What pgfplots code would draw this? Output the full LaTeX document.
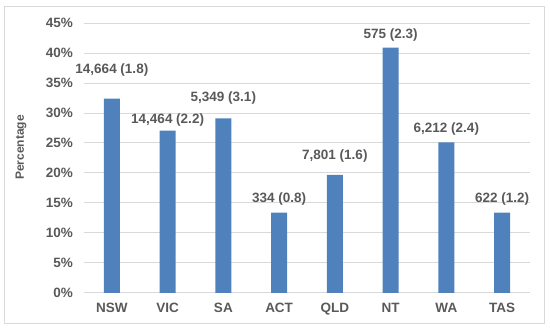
\documentclass[border=0pt]{standalone}
\usepackage{fontspec}
\setmainfont{Liberation Sans}
\usepackage{pgfplots}
\usepackage{pgfplotstable}
\pgfplotsset{compat=1.18}
\definecolor{txt}{HTML}{595959}
\definecolor{bar}{HTML}{4F81BD}
\definecolor{grd}{HTML}{D9D9D9}
\pgfplotstableread[col sep=semicolon, row sep=\\]{
x;y;ly;lab\\
0;32.4;37.17;{14,664 (1.8)}\\
1;27.05;28.83;{14,464 (2.2)}\\
2;29.1;32.5;{5,349 (3.1)}\\
3;13.4;15.67;{334 (0.8)}\\
4;19.7;22.83;{7,801 (1.6)}\\
5;40.9;43.0;{575 (2.3)}\\
6;25.1;27.33;{6,212 (2.4)}\\
7;13.4;15.67;{622 (1.2)}\\
}\datatable
\begin{document}
\begin{tikzpicture}[x=1pt,y=1pt]
\path[use as bounding box] (-84,-39) rectangle (466,293);
\draw[grd, line width=1pt] (-79,-31) rectangle (460,286);
\begin{axis}[
  at={(0pt,0pt)}, anchor=south west,
  scale only axis, width=446pt, height=270pt,
  xmin=-0.5, xmax=7.5, ymin=0, ymax=45,
  xtick=data, xticklabels={NSW,VIC,SA,ACT,QLD,NT,WA,TAS},
  ytick={0,5,...,45},
  yticklabel={\pgfmathprintnumber[assume math mode=true]{\tick}\%},
  major tick length=0pt,
  axis line style={draw=none},
  ymajorgrids, grid style={grd, line width=1pt},
  tick label style={font=\fontsize{13.5}{15}\selectfont\bfseries, text=txt, inner sep=0pt},
  xticklabel style={yshift=-10pt},
  yticklabel style={xshift=-11pt},
  ylabel={Percentage},
  every axis y label/.style={at={(axis description cs:0,0.539)}, xshift=-63pt, rotate=90, anchor=center, font=\fontsize{12}{13}\selectfont\bfseries, text=txt},
  clip=false,
]
\addplot[ybar, bar width=16pt, fill=bar, draw=none] table[x=x, y=y] {\datatable};
\addplot[draw=none, mark=none, nodes near coords, point meta=explicit symbolic,
  every node near coord/.style={anchor=center, font=\fontsize{13.5}{15}\selectfont\bfseries, text=txt, inner sep=0pt}]
  table[x=x, y=ly, meta=lab] {\datatable};
\end{axis}
\end{tikzpicture}
\end{document}
